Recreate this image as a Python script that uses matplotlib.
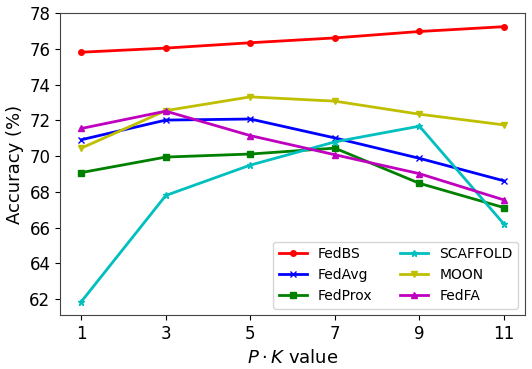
import matplotlib
matplotlib.use('Agg')
import matplotlib.pyplot as plt

x = [1, 3, 5, 7, 9, 11]
fedbs = [75.82, 76.05, 76.35, 76.62, 76.98, 77.25]
fedavg = [70.92, 72.02, 72.08, 71.02, 69.88, 68.62]
fedprox = [69.08, 69.95, 70.12, 70.45, 68.48, 67.12]
scaffold = [61.85, 67.80, 69.50, 70.80, 71.68, 66.20]
moon = [70.45, 72.55, 73.32, 73.08, 72.35, 71.75]
fedfa = [71.55, 72.52, 71.15, 70.08, 69.02, 67.55]

fig, ax = plt.subplots(figsize=(5.32, 3.69), dpi=100)
ax.plot(x, fedbs, 'r-o', label='FedBS', linewidth=2, markersize=4)
ax.plot(x, fedavg, 'b-x', label='FedAvg', linewidth=2, markersize=5)
ax.plot(x, fedprox, 'g-s', label='FedProx', linewidth=2, markersize=5)
ax.plot(x, scaffold, 'c-*', label='SCAFFOLD', linewidth=2, markersize=5)
ax.plot(x, moon, 'y-v', label='MOON', linewidth=2, markersize=5)
ax.plot(x, fedfa, 'm-^', label='FedFA', linewidth=2, markersize=5)

ax.set_xticks(x)
ax.set_yticks(range(62, 79, 2))
ax.tick_params(labelsize=12)
for s in ax.spines.values():
    s.set_color('#444444')
ax.set_xlabel(r'$P \cdot K$ value', fontsize=13)
ax.set_ylabel('Accuracy (%)', fontsize=13)
ax.legend(loc='lower right', ncol=2, fontsize=10)

fig.subplots_adjust(left=0.113, right=0.987, top=0.965, bottom=0.145)
plt.savefig('out.png')
